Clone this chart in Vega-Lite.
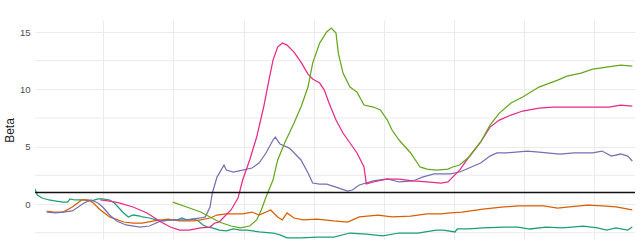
{
  "$schema": "https://vega.github.io/schema/vega-lite/v6.json",
  "autosize": {"type": "none"},
  "width": 600,
  "height": 220,
  "padding": {"left": 35, "top": 20, "right": 5, "bottom": 0},
  "background": "white",
  "config": {
    "view": {"stroke": null},
    "font": "Liberation Sans"
  },
  "datasets": {
    "minor": [{"beta": -2.5}, {"beta": 2.5}, {"beta": 7.5}, {"beta": 12.5}],
    "reference": [{"beta": 1}],
    "series": [
      {"s": "a", "t": 0, "beta": 1.31}, {"s": "a", "t": 1, "beta": 0.78}, {"s": "a", "t": 3, "beta": 0.52}, {"s": "a", "t": 6, "beta": 0.35},
      {"s": "a", "t": 9, "beta": 0.26}, {"s": "a", "t": 12, "beta": 0.17}, {"s": "a", "t": 14, "beta": 0.17}, {"s": "a", "t": 15, "beta": 0.44},
      {"s": "a", "t": 17, "beta": 0.35}, {"s": "a", "t": 19, "beta": 0.35}, {"s": "a", "t": 21, "beta": 0.35}, {"s": "a", "t": 24, "beta": 0.26},
      {"s": "a", "t": 27, "beta": 0.44}, {"s": "a", "t": 29, "beta": 0.44}, {"s": "a", "t": 32, "beta": 0.35}, {"s": "a", "t": 34, "beta": 0.09},
      {"s": "a", "t": 36, "beta": -0.35}, {"s": "a", "t": 38, "beta": -0.78}, {"s": "a", "t": 40, "beta": -1.13}, {"s": "a", "t": 42, "beta": -0.96},
      {"s": "a", "t": 45, "beta": -1.05}, {"s": "a", "t": 46, "beta": -1.13}, {"s": "a", "t": 49, "beta": -1.22}, {"s": "a", "t": 52, "beta": -1.39},
      {"s": "a", "t": 55, "beta": -1.48}, {"s": "a", "t": 58, "beta": -1.39}, {"s": "a", "t": 61, "beta": -1.39}, {"s": "a", "t": 63, "beta": -1.22},
      {"s": "a", "t": 65, "beta": -1.39}, {"s": "a", "t": 68, "beta": -1.31}, {"s": "a", "t": 70, "beta": -1.48}, {"s": "a", "t": 72, "beta": -1.83},
      {"s": "a", "t": 74, "beta": -2.01}, {"s": "a", "t": 76, "beta": -2.09}, {"s": "a", "t": 79, "beta": -2.27}, {"s": "a", "t": 82, "beta": -2.35},
      {"s": "a", "t": 85, "beta": -2.18}, {"s": "a", "t": 88, "beta": -2.27}, {"s": "a", "t": 91, "beta": -2.27}, {"s": "a", "t": 96, "beta": -2.44},
      {"s": "a", "t": 102, "beta": -2.53}, {"s": "a", "t": 105, "beta": -2.7}, {"s": "a", "t": 108, "beta": -2.96}, {"s": "a", "t": 114, "beta": -2.96},
      {"s": "a", "t": 121, "beta": -2.88}, {"s": "a", "t": 128, "beta": -2.88}, {"s": "a", "t": 135, "beta": -2.53}, {"s": "a", "t": 142, "beta": -2.62},
      {"s": "a", "t": 149, "beta": -2.79}, {"s": "a", "t": 156, "beta": -2.53}, {"s": "a", "t": 164, "beta": -2.53}, {"s": "a", "t": 172, "beta": -2.27},
      {"s": "a", "t": 175, "beta": -2.27}, {"s": "a", "t": 180, "beta": -2.44}, {"s": "a", "t": 181, "beta": -2.18}, {"s": "a", "t": 186, "beta": -2.18},
      {"s": "a", "t": 192, "beta": -2.09}, {"s": "a", "t": 201, "beta": -2.01}, {"s": "a", "t": 207, "beta": -2.01}, {"s": "a", "t": 212, "beta": -2.18},
      {"s": "a", "t": 219, "beta": -2.01}, {"s": "a", "t": 226, "beta": -2.09}, {"s": "a", "t": 235, "beta": -1.92}, {"s": "a", "t": 241, "beta": -2.09},
      {"s": "a", "t": 245, "beta": -2.27}, {"s": "a", "t": 249, "beta": -2.09}, {"s": "a", "t": 254, "beta": -2.27}, {"s": "a", "t": 256, "beta": -2.01},

      {"s": "b", "t": 5, "beta": -0.61}, {"s": "b", "t": 8, "beta": -0.7}, {"s": "b", "t": 12, "beta": -0.7}, {"s": "b", "t": 16, "beta": -0.26},
      {"s": "b", "t": 20, "beta": 0.35}, {"s": "b", "t": 23, "beta": 0.35}, {"s": "b", "t": 25, "beta": 0.09}, {"s": "b", "t": 28, "beta": -0.52},
      {"s": "b", "t": 32, "beta": -1.13}, {"s": "b", "t": 38, "beta": -1.57}, {"s": "b", "t": 42, "beta": -1.66}, {"s": "b", "t": 46, "beta": -1.66},
      {"s": "b", "t": 51, "beta": -1.48}, {"s": "b", "t": 57, "beta": -1.31}, {"s": "b", "t": 62, "beta": -1.48}, {"s": "b", "t": 68, "beta": -1.48},
      {"s": "b", "t": 71, "beta": -1.39}, {"s": "b", "t": 75, "beta": -1.22}, {"s": "b", "t": 78, "beta": -0.96}, {"s": "b", "t": 82, "beta": -0.87},
      {"s": "b", "t": 89, "beta": -0.87}, {"s": "b", "t": 93, "beta": -0.7}, {"s": "b", "t": 96, "beta": -0.96}, {"s": "b", "t": 101, "beta": -0.52},
      {"s": "b", "t": 104, "beta": -1.13}, {"s": "b", "t": 106, "beta": -1.39}, {"s": "b", "t": 108, "beta": -0.78}, {"s": "b", "t": 111, "beta": -1.22},
      {"s": "b", "t": 115, "beta": -1.39}, {"s": "b", "t": 121, "beta": -1.31}, {"s": "b", "t": 128, "beta": -1.48}, {"s": "b", "t": 134, "beta": -1.57},
      {"s": "b", "t": 139, "beta": -1.13}, {"s": "b", "t": 147, "beta": -0.96}, {"s": "b", "t": 153, "beta": -1.13}, {"s": "b", "t": 161, "beta": -1.05},
      {"s": "b", "t": 168, "beta": -0.87}, {"s": "b", "t": 174, "beta": -0.87}, {"s": "b", "t": 178, "beta": -0.78}, {"s": "b", "t": 183, "beta": -0.7},
      {"s": "b", "t": 192, "beta": -0.44}, {"s": "b", "t": 201, "beta": -0.26}, {"s": "b", "t": 207, "beta": -0.17}, {"s": "b", "t": 218, "beta": -0.17},
      {"s": "b", "t": 224, "beta": -0.35}, {"s": "b", "t": 229, "beta": -0.26}, {"s": "b", "t": 237, "beta": -0.09}, {"s": "b", "t": 243, "beta": -0.17},
      {"s": "b", "t": 249, "beta": -0.26}, {"s": "b", "t": 256, "beta": -0.52},

      {"s": "c", "t": 5, "beta": -0.7}, {"s": "c", "t": 9, "beta": -0.78}, {"s": "c", "t": 12, "beta": -0.7}, {"s": "c", "t": 16, "beta": -0.61},
      {"s": "c", "t": 21, "beta": 0.09}, {"s": "c", "t": 24, "beta": 0.35}, {"s": "c", "t": 27, "beta": 0.09}, {"s": "c", "t": 29, "beta": -0.26},
      {"s": "c", "t": 32, "beta": -0.96}, {"s": "c", "t": 35, "beta": -1.48}, {"s": "c", "t": 39, "beta": -1.83}, {"s": "c", "t": 45, "beta": -2.01},
      {"s": "c", "t": 49, "beta": -1.92}, {"s": "c", "t": 54, "beta": -1.48}, {"s": "c", "t": 59, "beta": -1.39}, {"s": "c", "t": 65, "beta": -1.39},
      {"s": "c", "t": 71, "beta": -1.22}, {"s": "c", "t": 73, "beta": -1.13}, {"s": "c", "t": 75, "beta": -0.26}, {"s": "c", "t": 76, "beta": 0.96},
      {"s": "c", "t": 78, "beta": 2.35}, {"s": "c", "t": 81, "beta": 3.4}, {"s": "c", "t": 82, "beta": 2.96}, {"s": "c", "t": 85, "beta": 2.79},
      {"s": "c", "t": 89, "beta": 2.96}, {"s": "c", "t": 93, "beta": 3.14}, {"s": "c", "t": 96, "beta": 3.57}, {"s": "c", "t": 99, "beta": 4.45},
      {"s": "c", "t": 102, "beta": 5.58}, {"s": "c", "t": 103, "beta": 5.84}, {"s": "c", "t": 105, "beta": 5.23}, {"s": "c", "t": 109, "beta": 4.88},
      {"s": "c", "t": 114, "beta": 3.84}, {"s": "c", "t": 117, "beta": 2.7}, {"s": "c", "t": 119, "beta": 1.83}, {"s": "c", "t": 122, "beta": 1.74},
      {"s": "c", "t": 125, "beta": 1.74}, {"s": "c", "t": 129, "beta": 1.48}, {"s": "c", "t": 134, "beta": 1.13}, {"s": "c", "t": 136, "beta": 1.22},
      {"s": "c", "t": 139, "beta": 1.66}, {"s": "c", "t": 145, "beta": 2.01}, {"s": "c", "t": 151, "beta": 2.18}, {"s": "c", "t": 156, "beta": 1.92},
      {"s": "c", "t": 162, "beta": 2.01}, {"s": "c", "t": 166, "beta": 2.35}, {"s": "c", "t": 171, "beta": 2.62}, {"s": "c", "t": 178, "beta": 2.62},
      {"s": "c", "t": 182, "beta": 2.79}, {"s": "c", "t": 186, "beta": 3.14}, {"s": "c", "t": 191, "beta": 3.57}, {"s": "c", "t": 195, "beta": 4.18},
      {"s": "c", "t": 198, "beta": 4.45}, {"s": "c", "t": 202, "beta": 4.45}, {"s": "c", "t": 211, "beta": 4.62}, {"s": "c", "t": 216, "beta": 4.53},
      {"s": "c", "t": 225, "beta": 4.36}, {"s": "c", "t": 231, "beta": 4.45}, {"s": "c", "t": 239, "beta": 4.45}, {"s": "c", "t": 243, "beta": 4.62},
      {"s": "c", "t": 247, "beta": 4.18}, {"s": "c", "t": 251, "beta": 4.36}, {"s": "c", "t": 254, "beta": 4.18}, {"s": "c", "t": 256, "beta": 3.75},

      {"s": "d", "t": 28, "beta": 0.35}, {"s": "d", "t": 32, "beta": 0.26}, {"s": "d", "t": 36, "beta": 0.09}, {"s": "d", "t": 42, "beta": -0.26},
      {"s": "d", "t": 48, "beta": -0.78}, {"s": "d", "t": 54, "beta": -1.57}, {"s": "d", "t": 58, "beta": -2.01}, {"s": "d", "t": 62, "beta": -2.27},
      {"s": "d", "t": 66, "beta": -2.27}, {"s": "d", "t": 71, "beta": -2.09}, {"s": "d", "t": 75, "beta": -2.01}, {"s": "d", "t": 77, "beta": -1.66},
      {"s": "d", "t": 79, "beta": -1.57}, {"s": "d", "t": 81, "beta": -1.13}, {"s": "d", "t": 84, "beta": -0.52}, {"s": "d", "t": 87, "beta": 0.52},
      {"s": "d", "t": 89, "beta": 2.09}, {"s": "d", "t": 92, "beta": 3.84}, {"s": "d", "t": 95, "beta": 5.84}, {"s": "d", "t": 98, "beta": 8.46},
      {"s": "d", "t": 100, "beta": 10.55}, {"s": "d", "t": 102, "beta": 12.55}, {"s": "d", "t": 104, "beta": 13.69}, {"s": "d", "t": 106, "beta": 14.04},
      {"s": "d", "t": 108, "beta": 13.86}, {"s": "d", "t": 111, "beta": 13.25}, {"s": "d", "t": 114, "beta": 12.38}, {"s": "d", "t": 117, "beta": 11.33},
      {"s": "d", "t": 119, "beta": 10.9}, {"s": "d", "t": 122, "beta": 10.55}, {"s": "d", "t": 124, "beta": 9.94}, {"s": "d", "t": 126, "beta": 8.81},
      {"s": "d", "t": 129, "beta": 7.32}, {"s": "d", "t": 132, "beta": 6.19}, {"s": "d", "t": 135, "beta": 5.32}, {"s": "d", "t": 138, "beta": 4.45},
      {"s": "d", "t": 141, "beta": 3.23}, {"s": "d", "t": 142, "beta": 1.74}, {"s": "d", "t": 145, "beta": 1.92}, {"s": "d", "t": 151, "beta": 2.18},
      {"s": "d", "t": 156, "beta": 2.18}, {"s": "d", "t": 162, "beta": 2.01}, {"s": "d", "t": 168, "beta": 1.92}, {"s": "d", "t": 174, "beta": 1.83},
      {"s": "d", "t": 177, "beta": 1.92}, {"s": "d", "t": 179, "beta": 2.35}, {"s": "d", "t": 182, "beta": 2.96}, {"s": "d", "t": 186, "beta": 4.1},
      {"s": "d", "t": 191, "beta": 5.41}, {"s": "d", "t": 195, "beta": 6.71}, {"s": "d", "t": 199, "beta": 7.32}, {"s": "d", "t": 204, "beta": 7.76},
      {"s": "d", "t": 209, "beta": 8.11}, {"s": "d", "t": 216, "beta": 8.37}, {"s": "d", "t": 222, "beta": 8.46}, {"s": "d", "t": 231, "beta": 8.46},
      {"s": "d", "t": 239, "beta": 8.46}, {"s": "d", "t": 246, "beta": 8.46}, {"s": "d", "t": 251, "beta": 8.63}, {"s": "d", "t": 256, "beta": 8.54},

      {"s": "e", "t": 59, "beta": 0.17}, {"s": "e", "t": 65, "beta": -0.26}, {"s": "e", "t": 71, "beta": -0.7}, {"s": "e", "t": 75, "beta": -1.13},
      {"s": "e", "t": 79, "beta": -1.57}, {"s": "e", "t": 84, "beta": -1.92}, {"s": "e", "t": 88, "beta": -2.09}, {"s": "e", "t": 92, "beta": -1.92},
      {"s": "e", "t": 95, "beta": -1.39}, {"s": "e", "t": 97, "beta": -0.52}, {"s": "e", "t": 99, "beta": 0.61}, {"s": "e", "t": 102, "beta": 2.09},
      {"s": "e", "t": 104, "beta": 3.84}, {"s": "e", "t": 107, "beta": 5.32}, {"s": "e", "t": 111, "beta": 7.06}, {"s": "e", "t": 114, "beta": 8.46},
      {"s": "e", "t": 117, "beta": 10.2}, {"s": "e", "t": 119, "beta": 12.29}, {"s": "e", "t": 122, "beta": 14.04}, {"s": "e", "t": 125, "beta": 15.0},
      {"s": "e", "t": 127, "beta": 15.34}, {"s": "e", "t": 129, "beta": 14.91}, {"s": "e", "t": 130, "beta": 13.16}, {"s": "e", "t": 132, "beta": 11.42},
      {"s": "e", "t": 135, "beta": 10.2}, {"s": "e", "t": 138, "beta": 9.76}, {"s": "e", "t": 141, "beta": 8.63}, {"s": "e", "t": 145, "beta": 8.46},
      {"s": "e", "t": 148, "beta": 8.2}, {"s": "e", "t": 151, "beta": 7.32}, {"s": "e", "t": 153, "beta": 6.45}, {"s": "e", "t": 156, "beta": 5.58},
      {"s": "e", "t": 161, "beta": 4.45}, {"s": "e", "t": 165, "beta": 3.23}, {"s": "e", "t": 168, "beta": 3.05}, {"s": "e", "t": 172, "beta": 2.96},
      {"s": "e", "t": 177, "beta": 3.05}, {"s": "e", "t": 179, "beta": 3.23}, {"s": "e", "t": 182, "beta": 3.4}, {"s": "e", "t": 186, "beta": 4.1},
      {"s": "e", "t": 191, "beta": 5.41}, {"s": "e", "t": 195, "beta": 6.89}, {"s": "e", "t": 199, "beta": 7.93}, {"s": "e", "t": 204, "beta": 8.81},
      {"s": "e", "t": 209, "beta": 9.33}, {"s": "e", "t": 216, "beta": 10.2}, {"s": "e", "t": 224, "beta": 10.81}, {"s": "e", "t": 228, "beta": 11.16},
      {"s": "e", "t": 234, "beta": 11.42}, {"s": "e", "t": 239, "beta": 11.77}, {"s": "e", "t": 245, "beta": 11.94}, {"s": "e", "t": 251, "beta": 12.12},
      {"s": "e", "t": 256, "beta": 12.03}
    ]
  },
  "encoding": {
    "y": {
      "field": "beta",
      "type": "quantitative",
      "scale": {"domain": [-3.14, 16.05], "nice": false, "zero": false},
      "axis": {
        "values": [0, 5, 10, 15],
        "ticks": false,
        "domain": false,
        "grid": true,
        "gridColor": "#ebebeb",
        "gridWidth": 1,
        "labelColor": "#4d4d4d",
        "labelFontSize": 9.5,
        "labelPadding": 5,
        "labelOverlap": false,
        "title": "Beta",
        "titleColor": "#1a1a1a",
        "titleFontSize": 12,
        "titleFontWeight": "normal",
        "titlePadding": 3
      }
    }
  },
  "layer": [
    {
      "data": {"name": "minor"},
      "mark": {"type": "rule", "color": "#ebebeb", "strokeWidth": 1},
      "encoding": {}
    },
    {
      "data": {"name": "series"},
      "mark": {"type": "line", "strokeWidth": 1.25, "clip": true},
      "encoding": {
        "x": {
          "field": "t",
          "type": "quantitative",
          "scale": {"domain": [0, 257.14], "nice": false, "zero": false},
          "axis": {
            "values": [29.3, 59.3, 89.5, 119.5, 149.5, 179.5, 209.5, 239.7],
            "labels": false,
            "ticks": false,
            "domain": false,
            "title": null,
            "grid": true,
            "gridColor": "#ebebeb",
            "gridWidth": 1
          }
        },
        "color": {
          "field": "s",
          "type": "nominal",
          "scale": {
            "domain": ["a", "b", "c", "d", "e"],
            "range": ["#1b9e77", "#d95f02", "#7570b3", "#e7298a", "#66a61e"]
          },
          "legend": null
        }
      }
    },
    {
      "data": {"name": "reference"},
      "mark": {"type": "rule", "color": "#111111", "strokeWidth": 1.5},
      "encoding": {}
    }
  ]
}
